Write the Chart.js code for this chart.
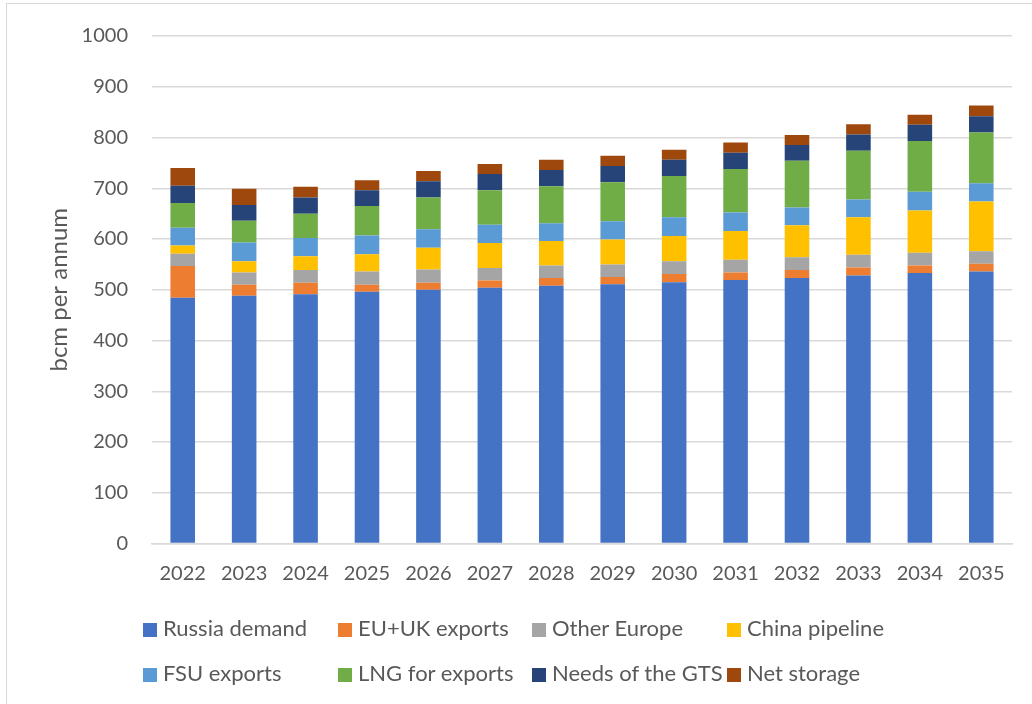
<!DOCTYPE html>
<html>
<head>
    <title>Russian gas balance</title>
    <script src="https://cdn.jsdelivr.net/npm/chart.js"></script>
    <style>
        body { margin: 0; background: #ffffff; }
        #wrap { position: relative; width: 1032px; height: 704px; overflow: hidden; }
        #frame { position: absolute; left: 6px; top: 3px; width: 1100px; height: 800px;
                 border-left: 1.5px solid #d9d9d9; border-top: 1.5px solid #d9d9d9; }
        #chartCanvas { position: absolute; left: 0; top: 0; }
        .lg { position: absolute; font-family: Lato, "Open Sans", sans-serif; font-size: 22px;
              color: #595959; white-space: nowrap; line-height: 26px; }
        .lg span.box { display: inline-block; width: 14px; height: 14px; margin-right: 6px; vertical-align: -1px; }
    </style>
</head>
<body>
<div id="wrap">
    <div id="frame"></div>
    <canvas id="chartCanvas" width="1032" height="704"></canvas>
    <div id="legend"></div>
</div>
<script>
// categories
const years = ['2022', '2023', '2024', '2025', '2026', '2027', '2028',
               '2029', '2030', '2031', '2032', '2033', '2034', '2035'];

// series values, bcm per annum
const russiaDemand = [484, 488, 491, 496, 500, 504, 508, 511, 515, 519, 523, 528, 533, 536];
const euUkExports  = [63, 22, 23, 14, 14, 14, 15, 14, 16, 15, 16, 16, 15, 15];
const otherEurope  = [24, 24, 25, 26, 26, 25, 25, 25, 25, 25, 25, 25, 25, 25];
const chinaPipe    = [16, 22, 27, 34, 43, 49, 48, 49, 50, 57, 63, 74, 83, 98];
const fsuExports   = [35, 37, 36, 37, 36, 36, 35, 36, 37, 36, 35, 35, 37, 36];
const lngExports   = [49, 43, 48, 58, 63, 68, 73, 77, 81, 86, 92, 96, 100, 100];
const gtsNeeds     = [34, 31, 32, 31, 32, 32, 32, 32, 32, 32, 31, 32, 32, 32];
const netStorage   = [35, 32, 21, 20, 20, 20, 20, 20, 20, 20, 20, 20, 20, 21];

const seriesNames = ['Russia demand', 'EU+UK exports', 'Other Europe', 'China pipeline',
                     'FSU exports', 'LNG for exports', 'Needs of the GTS', 'Net storage'];
const seriesData = [russiaDemand, euUkExports, otherEurope, chinaPipe,
                    fsuExports, lngExports, gtsNeeds, netStorage];
const seriesColors = ['#4472C4', '#ED7D31', '#A5A5A5', '#FFC000',
                      '#5B9BD5', '#70AD47', '#264478', '#9E480E'];

const yTicks = [0, 100, 200, 300, 400, 500, 600, 700, 800, 900, 1000];
const yTitle = 'bcm per annum';

const FONT = 'Lato, "Open Sans", sans-serif';
const GREY_TEXT = '#595959';
const GRID = '#d9d9d9';

const datasets = seriesNames.map((name, i) => ({
    label: name,
    data: seriesData[i],
    backgroundColor: seriesColors[i],
    borderWidth: 0,
    barPercentage: 0.4,
    categoryPercentage: 1.0
}));

const ctx = document.getElementById('chartCanvas').getContext('2d');
new Chart(ctx, {
    type: 'bar',
    data: { labels: years, datasets: datasets },
    options: {
        responsive: false,
        animation: false,
        layout: { padding: { top: 31, right: 20, bottom: 110, left: 0 } },
        scales: {
            x: {
                stacked: true,
                grid: { display: false, drawTicks: false },
                border: { display: true, color: GRID, width: 1.5 },
                ticks: { color: GREY_TEXT, font: { family: FONT, size: 20 }, padding: 18, maxRotation: 0 },
                afterFit: function(scale) { scale.height = 50.5; }
            },
            y: {
                stacked: true,
                min: 0,
                max: 1000,
                afterBuildTicks: function(scale) { scale.ticks = yTicks.map(v => ({ value: v })); },
                grid: { color: GRID, lineWidth: 1.5, drawTicks: false },
                border: { display: false },
                ticks: {
                    color: GREY_TEXT,
                    font: { family: FONT, size: 20 },
                    padding: 24,
                    callback: function(value) { return String(value); }
                },
                title: {
                    display: true,
                    text: yTitle,
                    color: GREY_TEXT,
                    font: { family: FONT, size: 24, weight: 'normal' },
                    padding: { top: 45, bottom: 0 }
                },
                afterFit: function(scale) { scale.width = 152; }
            }
        },
        plugins: {
            legend: { display: false },
            tooltip: { enabled: false }
        }
    }
});

// legend laid out in a 4-column grid like the original
const legend = document.getElementById('legend');
const colX = [143, 338, 532, 727];
const rowY = [628, 673];
seriesNames.forEach((name, i) => {
    const item = document.createElement('div');
    item.className = 'lg';
    item.style.left = colX[i % 4] + 'px';
    item.style.top = (rowY[Math.floor(i / 4)] - 13) + 'px';
    item.innerHTML = '<span class="box" style="background:' + seriesColors[i] + '"></span>' + name;
    legend.appendChild(item);
});
</script>
</body>
</html>
